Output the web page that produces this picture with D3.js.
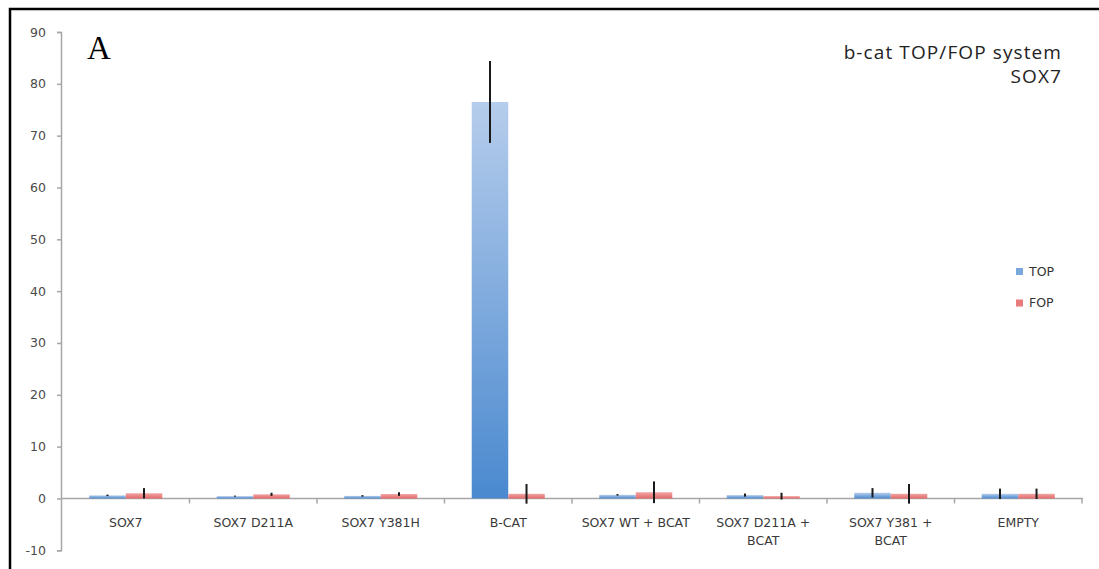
<!DOCTYPE html>
<html>
<head>
<meta charset="utf-8">
<script src="https://cdn.jsdelivr.net/npm/d3@7"></script>
<style>
  html, body { margin: 0; padding: 0; background: #fff; }
  svg { display: block; }
</style>
</head>
<body>
<svg id="chart" width="1099" height="569"></svg>
<script>
// ---- data ----
const categories = [
  ["SOX7"], ["SOX7 D211A"], ["SOX7 Y381H"], ["B-CAT"],
  ["SOX7 WT + BCAT"], ["SOX7 D211A +", "BCAT"], ["SOX7 Y381 +", "BCAT"], ["EMPTY"]
];
const categoryKeys = categories.map(c => c.join(" "));
const seriesNames = ["TOP", "FOP"];
const topValues = [0.6, 0.45, 0.5, 76.5, 0.7, 0.65, 1.1, 0.9];
const topErrors = [0.15, 0.1, 0.15, 7.9, 0.15, 0.3, 0.9, 1.0];
const fopValues = [1.0, 0.8, 0.85, 0.9, 1.2, 0.45, 0.9, 0.9];
const fopErrors = [1.0, 0.3, 0.35, 1.9, 2.1, 0.65, 1.9, 1.0];
const yTicks = [-10, 0, 10, 20, 30, 40, 50, 60, 70, 80, 90];

const svg = d3.select("#chart");

// frame
svg.append("rect")
  .attr("x", 10).attr("y", 9).attr("width", 1100).attr("height", 600)
  .attr("fill", "none").attr("stroke", "#000").attr("stroke-width", 2.5);

// gradients
const defs = svg.append("defs");
const gTop = defs.append("linearGradient").attr("id", "gTop")
  .attr("x1", 0).attr("y1", 0).attr("x2", 0).attr("y2", 1);
gTop.append("stop").attr("offset", "0%").attr("stop-color", "#b6cdec");
gTop.append("stop").attr("offset", "100%").attr("stop-color", "#4a89cf");
const gFop = defs.append("linearGradient").attr("id", "gFop")
  .attr("x1", 0).attr("y1", 0).attr("x2", 0).attr("y2", 1);
gFop.append("stop").attr("offset", "0%").attr("stop-color", "#f2a3a3");
gFop.append("stop").attr("offset", "100%").attr("stop-color", "#e46a6a");

// scales
const x = d3.scaleBand().domain(categoryKeys).range([62, 1082]).padding(0);
const xs = d3.scaleBand().domain(seriesNames).range([0, x.bandwidth()])
  .paddingInner(0).paddingOuter(0.745);
const y = d3.scaleLinear().domain([-10, 90]).range([550.3, 32]);

// y axis
const yAxis = svg.append("g").attr("transform", "translate(61,0)")
  .call(d3.axisLeft(y).tickValues(yTicks).tickSize(4).tickPadding(11).tickFormat(d => String(d)));
yAxis.select(".domain").attr("stroke", "#a6a6a6").attr("stroke-width", 1.5);
yAxis.selectAll(".tick line").attr("stroke", "#a6a6a6").attr("stroke-width", 1.5);
yAxis.selectAll(".tick text")
  .attr("font-family", "DejaVu Sans").attr("font-size", 12.5).attr("fill", "#4a4a4a");

// x axis line at 0
const y0 = y(0);
svg.append("line")
  .attr("x1", 61).attr("x2", x.range()[1] + 1)
  .attr("y1", y0).attr("y2", y0)
  .attr("stroke", "#a6a6a6").attr("stroke-width", 1.5);
const boundaries = categoryKeys.map(k => x(k)).concat([x.range()[1]]);
svg.selectAll(".xtick").data(boundaries.slice(1)).join("line")
  .attr("class", "xtick")
  .attr("x1", d => d).attr("x2", d => d)
  .attr("y1", y0).attr("y2", y0 + 5)
  .attr("stroke", "#a6a6a6").attr("stroke-width", 1.5);

// category labels
const catG = svg.selectAll(".cat").data(categories).join("text")
  .attr("class", "cat")
  .attr("text-anchor", "middle")
  .attr("font-family", "DejaVu Sans").attr("font-size", 12.5).attr("fill", "#3a3a3a");
catG.each(function(d, i) {
  const t = d3.select(this);
  d.forEach((line, j) => {
    t.append("tspan")
      .attr("x", x(categoryKeys[i]) + x.bandwidth() / 2)
      .attr("y", 527 + j * 18)
      .text(line);
  });
});

// bars
const rows = [];
categoryKeys.forEach((k, i) => {
  rows.push({cat: k, s: "TOP", v: topValues[i], e: topErrors[i]});
  rows.push({cat: k, s: "FOP", v: fopValues[i], e: fopErrors[i]});
});
svg.selectAll(".bar").data(rows).join("rect")
  .attr("class", "bar")
  .attr("x", d => x(d.cat) + xs(d.s))
  .attr("width", xs.bandwidth())
  .attr("y", d => y(d.v))
  .attr("height", d => y0 - y(d.v))
  .attr("fill", d => d.s === "TOP" ? "url(#gTop)" : "url(#gFop)");

// error bars
svg.selectAll(".err").data(rows).join("line")
  .attr("class", "err")
  .attr("x1", d => x(d.cat) + xs(d.s) + xs.bandwidth() / 2)
  .attr("x2", d => x(d.cat) + xs(d.s) + xs.bandwidth() / 2)
  .attr("y1", d => y(d.v + d.e))
  .attr("y2", d => y(d.v - d.e))
  .attr("stroke", "#1a1a1a").attr("stroke-width", 2);

// legend
const legendColors = {TOP: "#7aa7dd", FOP: "#e87c7c"};
const lg = svg.selectAll(".leg").data(seriesNames).join("g")
  .attr("class", "leg")
  .attr("transform", (d, i) => `translate(1016, ${268 + i * 31.5})`);
lg.append("rect").attr("width", 7).attr("height", 7)
  .attr("fill", d => legendColors[d]);
lg.append("text").attr("x", 13).attr("y", 3.5).attr("dy", "0.35em")
  .attr("font-family", "DejaVu Sans").attr("font-size", 12.5).attr("fill", "#333")
  .text(d => d);

// title
const title = svg.append("text")
  .attr("text-anchor", "end")
  .attr("font-family", "Open Sans").attr("font-size", 19).attr("fill", "#222")
  .attr("letter-spacing", 1.1);
title.append("tspan").attr("x", 1062).attr("y", 59).text("b-cat TOP/FOP system");
title.append("tspan").attr("x", 1062).attr("y", 83).text("SOX7");

// panel letter
svg.append("text")
  .attr("x", 87).attr("y", 59)
  .attr("font-family", "Liberation Serif").attr("font-size", 33).attr("fill", "#000")
  .text("A");
</script>
</body>
</html>
